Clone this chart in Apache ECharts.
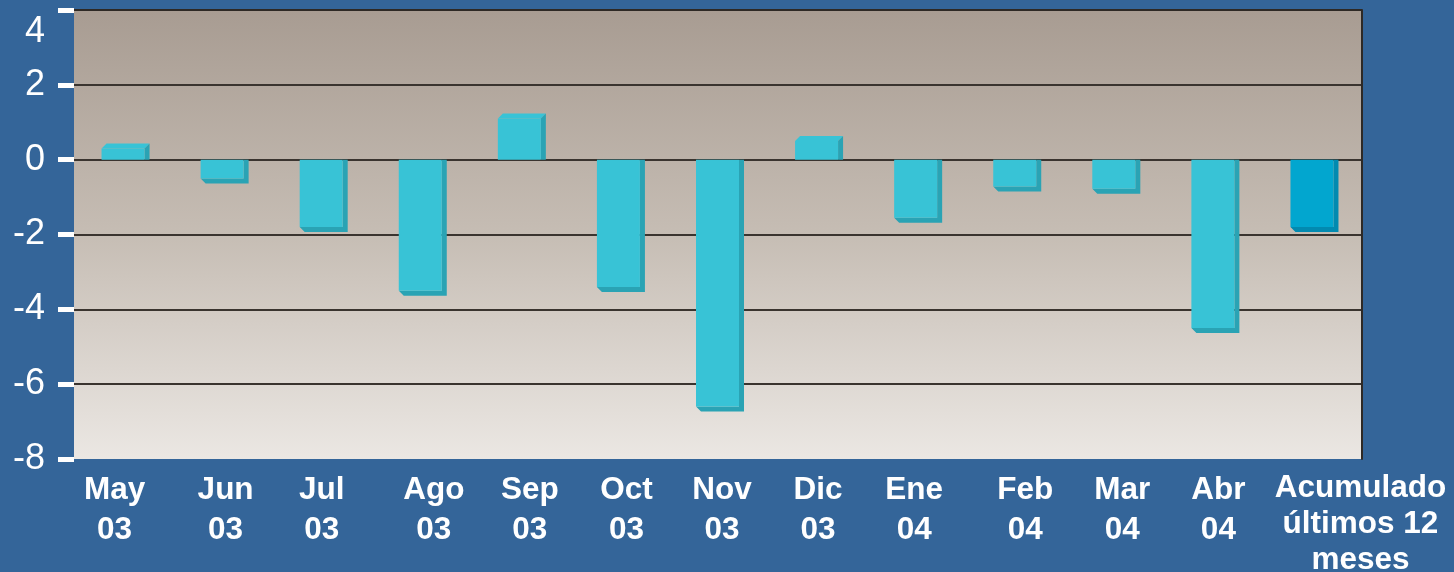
<!DOCTYPE html>
<html>
<head>
<meta charset="utf-8">
<script src="https://cdn.jsdelivr.net/npm/echarts@6/dist/echarts.min.js"></script>
<style>
html,body{margin:0;padding:0;background:#346599;}
#chart{width:1454px;height:572px;}
</style>
</head>
<body>
<div id="chart"></div>
<script>
// ---- data ----
const categories = ['May\n03','Jun\n03','Jul\n03','Ago\n03','Sep\n03','Oct\n03','Nov\n03','Dic\n03','Ene\n04','Feb\n04','Mar\n04','Abr\n04','Acumulado\núltimos 12\nmeses'];
const values = [0.3, -0.5, -1.8, -3.5, 1.1, -3.4, -6.6, 0.5, -1.55, -0.72, -0.78, -4.5, -1.8];
const yTicks = [-8, -6, -4, -2, 0, 2, 4];

// ---- layout / style ----
const labelShift = [-9, 3, 0, 13, 10, 7.5, 4, 1, -2, 10, 8, 5, 48];
const FONT = "'Liberation Sans', Arial, sans-serif";
const frontColor = '#38c3d6', sideColor = '#2aa3b4';
const accFront = '#02a6cf', accSide = '#028ab0';

const rich = {};
labelShift.forEach((s, i) => {
  rich['l' + i] = {
    color: '#fff', fontSize: 31.5, fontWeight: 'bold', fontFamily: FONT,
    lineHeight: i === 12 ? 36 : 40,
    padding: s >= 0 ? [0, 0, 0, 2 * s] : [0, -2 * s, 0, 0]
  };
});

const chart = echarts.init(document.getElementById('chart'));
const option = {
  backgroundColor: '#346599',
  animation: false,
  grid: {
    left: 74, right: 92, top: 10, bottom: 113,
    containLabel: false,
    outerBoundsMode: 'none',
    show: true, borderWidth: 0,
    backgroundColor: {
      type: 'linear', x: 0, y: 0, x2: 0, y2: 1,
      colorStops: [
        {offset: 0, color: '#a89c92'},
        {offset: 0.5, color: '#c6bdb4'},
        {offset: 1, color: '#ebe7e3'}
      ]
    }
  },
  xAxis: {
    type: 'category',
    data: categories,
    axisLine: {show: false},
    axisTick: {show: false},
    axisLabel: {
      interval: 0,
      margin: 11,
      formatter: function (val, idx) {
        return val.split('\n').map(l => '{l' + idx + '|' + l + '}').join('\n');
      },
      rich: rich
    }
  },
  yAxis: [{
    type: 'value',
    min: yTicks[0], max: yTicks[yTicks.length - 1], interval: 2,
    axisLine: {show: false},
    axisTick: {show: true, length: 16, lineStyle: {color: '#fff', width: 5}},
    axisLabel: {
      margin: 29,
      formatter: function (v) { return v === yTicks[yTicks.length - 1] ? '{top|' + v + '}' : '{n|' + v + '}'; },
      rich: {
        n: {color: '#fff', fontSize: 36, fontFamily: FONT},
        top: {color: '#fff', fontSize: 36, fontFamily: FONT, padding: [44, 0, 0, 0]}
      }
    },
    splitLine: {
      show: true,
      lineStyle: {color: ['rgba(0,0,0,0)', '#3a342f', '#3a342f', '#3a342f', '#3a342f', '#3a342f', '#2e2925'], width: 2}
    }
  }, {
    type: 'value', position: 'right',
    min: yTicks[0], max: yTicks[yTicks.length - 1], interval: 2,
    axisLine: {show: true, lineStyle: {color: '#2e2925', width: 2}},
    axisTick: {show: false}, axisLabel: {show: false}, splitLine: {show: false}
  }],
  series: [{
    type: 'custom',
    data: values.map((v, i) => [i, v]),
    renderItem: function (params, api) {
      const i = api.value(0), v = api.value(1);
      const p0 = api.coord([i, 0]);
      const p1 = api.coord([i, v]);
      const c = p0[0];
      const L = c - 22, R = c + 21, d = 5;
      const y0 = p0[1], y1 = p1[1];
      const isAcc = i === values.length - 1;
      const fc = isAcc ? accFront : frontColor;
      const sc = isAcc ? accSide : sideColor;
      const children = [];
      if (v >= 0) {
        children.push({type: 'polygon', shape: {points: [[L, y1], [L + d, y1 - d], [R + d, y1 - d], [R, y1]]}, style: {fill: fc}});
        children.push({type: 'polygon', shape: {points: [[R, y1], [R + d, y1 - d], [R + d, y0], [R, y0]]}, style: {fill: sc}});
        children.push({type: 'rect', shape: {x: L, y: y1, width: R - L, height: y0 - y1}, style: {fill: fc}});
      } else {
        children.push({type: 'polygon', shape: {points: [[R, y0], [R + d, y0], [R + d, y1 + d], [L + d, y1 + d], [L, y1], [R, y1]]}, style: {fill: sc}});
        children.push({type: 'rect', shape: {x: L, y: y0, width: R - L, height: y1 - y0}, style: {fill: fc}});
      }
      return {type: 'group', children: children};
    }
  }]
};
chart.setOption(option);
</script>
</body>
</html>
